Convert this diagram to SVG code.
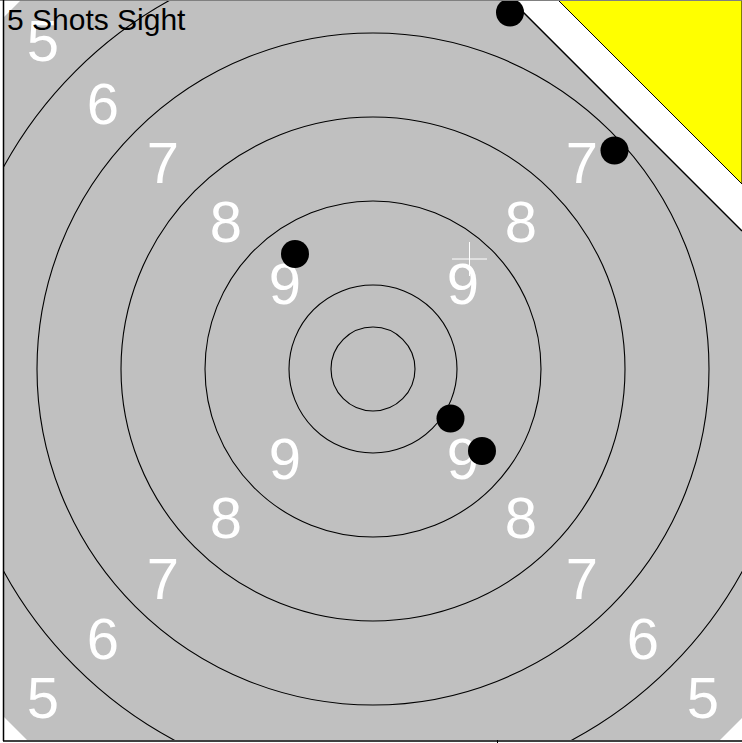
<svg xmlns="http://www.w3.org/2000/svg" width="742" height="743" viewBox="0 0 742 743">
  <style>
    .ring { fill: none; stroke: #000; stroke-width: 1.1; }
    .lbl { fill: #fff; font-family: "Liberation Sans", Arial, sans-serif; font-size: 58px; text-anchor: middle; }
    .shot { fill: #000; }
    .title { fill: #000; font-family: "Liberation Sans", Arial, sans-serif; font-size: 30px; }
  </style>
  <defs>
    <clipPath id="tgt">
      <polygon points="4,17 20,1 742,1 742,718 720,740 27,740 4,717"/>
    </clipPath>
  </defs>
  <rect x="0" y="0" width="742" height="743" fill="#fff"/>
  <g id="target">
    <polygon points="4,17 20,1 742,1 742,718 720,740 27,740 4,717" fill="#c0c0c0"/>
    <g clip-path="url(#tgt)">
      <circle class="ring" cx="373" cy="369" r="42"/>
      <circle class="ring" cx="373" cy="369" r="84"/>
      <circle class="ring" cx="373" cy="369" r="168"/>
      <circle class="ring" cx="373" cy="369" r="252"/>
      <circle class="ring" cx="373" cy="369" r="336"/>
      <circle class="ring" cx="373" cy="369" r="421"/>
    </g>
  </g>
  <g id="labels">
    <text class="lbl" x="43" y="61">5</text>
    <text class="lbl" x="43" y="718">5</text>
    <text class="lbl" x="703" y="718">5</text>
    <text class="lbl" x="103" y="124">6</text>
    <text class="lbl" x="103" y="659">6</text>
    <text class="lbl" x="643" y="659">6</text>
    <text class="lbl" x="163" y="183">7</text>
    <text class="lbl" x="163" y="599">7</text>
    <text class="lbl" x="582" y="599">7</text>
    <text class="lbl" x="582" y="183">7</text>
    <text class="lbl" x="226" y="242">8</text>
    <text class="lbl" x="226" y="538">8</text>
    <text class="lbl" x="521" y="538">8</text>
    <text class="lbl" x="521" y="242">8</text>
    <text class="lbl" x="285" y="304">9</text>
    <text class="lbl" x="285" y="479">9</text>
    <text class="lbl" x="463" y="479">9</text>
    <text class="lbl" x="463" y="304">9</text>
  </g>
  <g id="corner">
    <polygon points="511,0 742,0 742,231" fill="#fff"/>
    <line x1="511" y1="0" x2="742" y2="231" stroke="#000" stroke-width="1.5"/>
    <polygon points="558,0 742,0 742,184" fill="#ffff00" stroke="#000" stroke-width="1"/>
  </g>
  <g id="crosshair" stroke="#fff" stroke-width="1">
    <line x1="452" y1="259" x2="487" y2="259"/>
    <line x1="469.5" y1="242" x2="469.5" y2="276"/>
  </g>
  <g id="shots">
    <circle class="shot" cx="510" cy="12.5" r="14"/>
    <circle class="shot" cx="614.5" cy="150.5" r="14"/>
    <circle class="shot" cx="295" cy="254" r="14"/>
    <circle class="shot" cx="450.5" cy="418.5" r="14"/>
    <circle class="shot" cx="482" cy="451" r="14"/>
  </g>
  <g id="frame">
    <line x1="0" y1="0.5" x2="742" y2="0.5" stroke="#808080" stroke-width="1"/>
    <line x1="3.5" y1="0" x2="3.5" y2="741" stroke="#000" stroke-width="1.5"/>
    <line x1="3" y1="741" x2="742" y2="741" stroke="#000" stroke-width="1.5"/>
    <line x1="497.5" y1="740" x2="497.5" y2="743" stroke="#000" stroke-width="1"/>
  </g>
  <text class="title" x="7" y="30">5 Shots Sight</text>
</svg>
